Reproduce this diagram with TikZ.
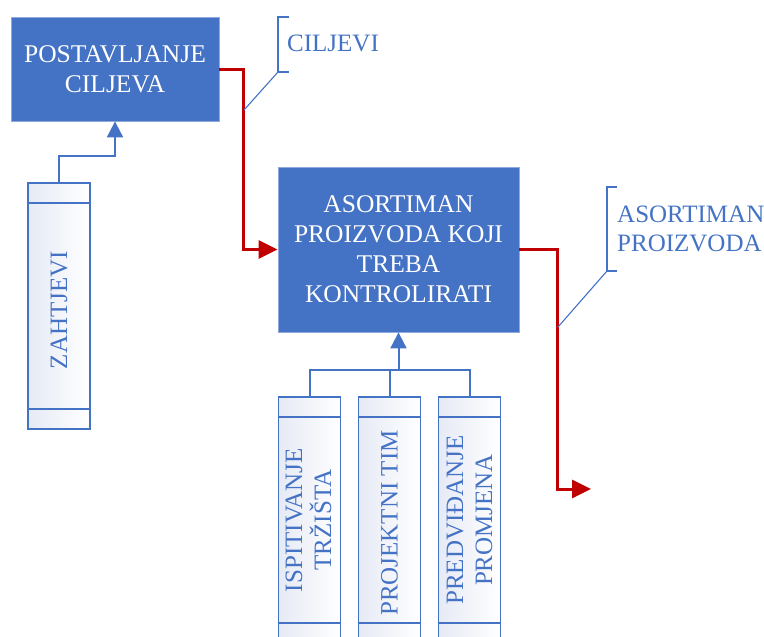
\documentclass[tikz,border=0pt]{standalone}
\usepackage{fontspec}
\setmainfont{Liberation Serif}
\usetikzlibrary{arrows.meta}
\definecolor{boxblue}{HTML}{4472C4}
\definecolor{flowred}{HTML}{C00000}
\definecolor{docfill}{HTML}{E6EAF5}
\tikzset{
  goalbox/.style={ fill=boxblue, draw=boxblue!60!white, line width=0.8pt, text=white, align=center, inner sep=0pt, font=\fontsize{25.5}{30}\selectfont },
  docbox/.style={ draw=boxblue, line width=1.6pt, left color=docfill, right color=white, minimum width=62pt, minimum height=246pt, inner sep=0pt },
  doctext/.style={ text=boxblue, rotate=90, align=center, inner sep=0pt, font=\fontsize{25}{29}\selectfont },
  calltext/.style={ text=boxblue, align=left, inner sep=0pt, font=\fontsize{25}{29}\selectfont },
  callout/.style={ draw=boxblue, line width=1.1pt },
  blueline/.style={ draw=boxblue, line width=2pt },
  bluearrow/.style={ blueline, -{Triangle[length=16pt,width=16pt]} },
  redflow/.style={ draw=flowred, line width=3pt, -{Triangle[length=19pt,width=18pt]} }
}
\begin{document}
\begin{tikzpicture}[ x=1pt, y=-1pt ]
  \useasboundingbox (0,0) rectangle (764,637);
  \clip (0,0) rectangle (764,637);

  \node [ goalbox, minimum width=208pt, minimum height=104pt ] (goals) at (115,69) { POSTAVLJANJE\\CILJEVA };
  \node [ goalbox, minimum width=241pt, minimum height=165pt ] (range) at (398.5,249.5) { ASORTIMAN\\PROIZVODA KOJI\\TREBA\\KONTROLIRATI };

  \node [ docbox ] (req) at (59,306) {};
  \node [ docbox ] (market) at (309.5,520) {};
  \node [ docbox ] (team) at (389.5,520) {};
  \node [ docbox ] (forecast) at (469.5,520) {};
  \foreach \d in {req,market,team,forecast} {
    \draw [ boxblue, line width=1.6pt ] ([yshift=-21pt]\d.north west) -- ([yshift=-21pt]\d.north east);
    \draw [ boxblue, line width=1.6pt ] ([yshift=21pt]\d.south west) -- ([yshift=21pt]\d.south east);
  }
  \node [ doctext ] (reqtext) at (59,307) { ZAHTJEVI };
  \node [ doctext ] (markettext) at (308.5,520) { ISPITIVANJE\\TRŽIŠTA };
  \node [ doctext ] (teamtext) at (389.5,520) { PROJEKTNI TIM };
  \node [ doctext ] (forecasttext) at (469.5,520) { PREDVIĐANJE\\PROMJENA };

  \node [ calltext, anchor=base west ] (goalslabel) at (287,52) { CILJEVI };
  \node [ calltext, anchor=base west ] (rangelabel) at (617,251) { ASORTIMAN\\PROIZVODA };

  \draw [ bluearrow ] (req.north) -- ++(0,-26) -| (goals.south);
  \draw [ blueline ] (market.north) -- ++(0,-26) -| (forecast.north);
  \draw [ blueline ] (team.north) -- ++(0,-26) coordinate (bar);
  \draw [ bluearrow ] (bar -| range.south) -- (range.south);

  \coordinate (out) at (591,489);
  \draw [ redflow ] (goals.east) -- ++(24,0) |- (range.west);
  \draw [ redflow ] (range.east) -- ++(38,0) |- (out);

  \draw [ callout ] (289,17) -- (278,17) -- (278,72) -- (289,72);
  \draw [ callout ] (278,72) -- (244,110);
  \draw [ callout ] (617,187) -- (607,187) -- (607,271) -- (617,271);
  \draw [ callout ] (607,271) -- (558,327);
\end{tikzpicture}
\end{document}
